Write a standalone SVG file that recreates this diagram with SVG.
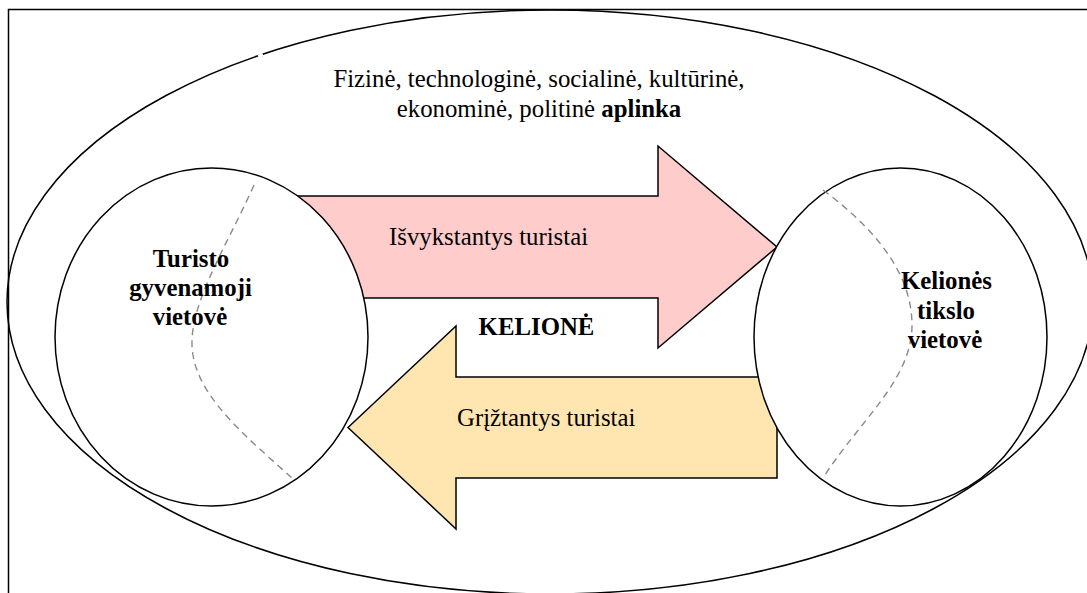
<svg xmlns="http://www.w3.org/2000/svg" width="1087" height="593" viewBox="0 0 1087 593">
  <style>
    .line { fill: none; stroke: #000; stroke-width: 1.5; }
    .place { fill: #fff; stroke: #000; stroke-width: 1.5; }
    .divide { fill: none; stroke: #8a8a8a; stroke-width: 1.4; stroke-dasharray: 7 5; }
    .arrow { stroke: #000; stroke-width: 1.5; stroke-linejoin: miter; }
    .out { fill: #ffcccc; }
    .back { fill: #ffe5b0; }
    text { font-family: "Liberation Serif", "Times New Roman", serif; font-size: 24.8px; fill: #000; }
    .b { font-weight: bold; }
    .mid { text-anchor: middle; }
  </style>

  <rect width="1087" height="593" fill="#fff"/>

  <!-- page frame (runs past the right and bottom edges) -->
  <rect id="frame" class="line" x="8.5" y="9.5" width="1100" height="600"/>

  <!-- surrounding environment -->
  <g id="environment">
    <ellipse class="line" cx="550" cy="302" rx="543" ry="292"/>
    <!-- small break in the outline -->
    <line x1="258.3" y1="56.6" x2="262.8" y2="54.4" stroke="#fff" stroke-width="3.5"/>
    <text class="mid" x="539" y="87">Fizinė, technologinė, socialinė, kultūrinė,</text>
    <text class="mid" x="539" y="117">ekonominė, politinė <tspan class="b">aplinka</tspan></text>
  </g>

  <!-- flows between the two places -->
  <g id="connectors">
    <g id="outbound">
      <polygon class="arrow out" points="250,196 658,196 658,146 777,247 658,348 658,298 250,298"/>
      <text x="389" y="245">Išvykstantys turistai</text>
    </g>
    <g id="return">
      <polygon class="arrow back" points="348,427.5 456,326 456,377 777,377 777,478 456,478 456,529"/>
      <text x="457" y="426">Grįžtantys turistai</text>
    </g>
  </g>

  <g id="journey">
    <text class="b mid" x="536.5" y="335">KELIONĖ</text>
  </g>

  <!-- origin region -->
  <g id="home">
    <ellipse class="place" cx="211.5" cy="337" rx="156.5" ry="169"/>
    <path class="divide" d="M254,185 C225,250 185,310 193,355 C200,400 250,440 292,478"/>
    <text class="b mid" x="191" y="267">Turisto</text>
    <text class="b mid" x="190.5" y="296">gyvenamoji</text>
    <text class="b mid" x="190" y="325">vietovė</text>
  </g>

  <!-- destination region -->
  <g id="destination">
    <ellipse class="place" cx="900.5" cy="337" rx="146.5" ry="169"/>
    <path class="divide" d="M823,190 C870,225 912,270 912,325 C912,380 860,420 823,478"/>
    <text class="b mid" x="946.5" y="289">Kelionės</text>
    <text class="b mid" x="946" y="318.5">tikslo</text>
    <text class="b mid" x="945" y="347.5">vietovė</text>
  </g>
</svg>
